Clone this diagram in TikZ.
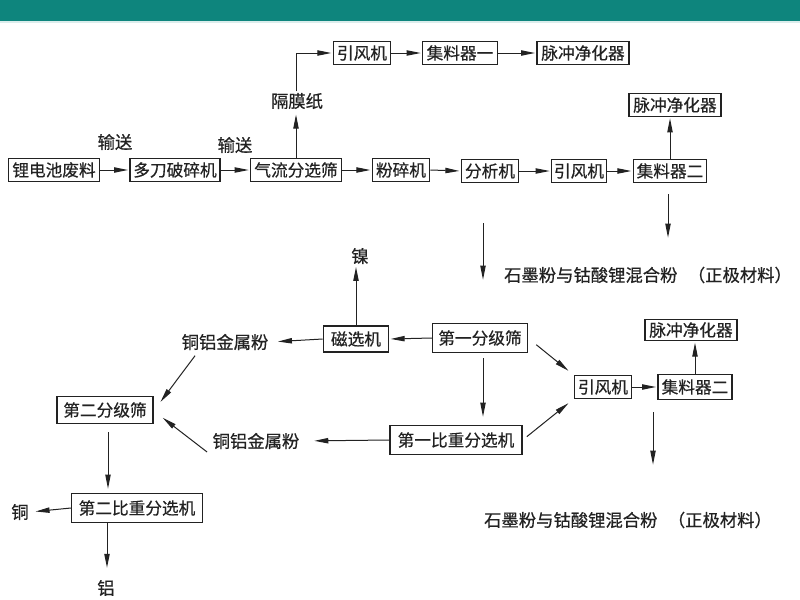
\documentclass[tikz,border=0pt]{standalone}
\usepackage{fontspec}
\newfontfamily\cjk[FakeBold=0.5]{Noto Sans CJK SC}
\usetikzlibrary{arrows.meta,calc}
\definecolor{headteal}{HTML}{0E857D}
\definecolor{ink}{HTML}{222222}
\tikzset{
  box/.style={draw=ink, line width=1pt, inner xsep=1pt, inner ysep=1pt, minimum height=17pt,
    font=\cjk\fontsize{12.5}{13}\selectfont, text=ink},
  lbl/.style={inner sep=1pt, font=\cjk\fontsize{13}{14}\selectfont, text=ink},
  arr/.style={draw=ink, line width=0.75pt, -{Triangle[length=10.5pt,width=4pt]}, shorten >=1pt},
}
\begin{document}
\begin{tikzpicture}[x=0.75pt,y=-0.75pt]
\useasboundingbox (0,0) rectangle (800,600);
\fill[white] (0,0) rectangle (800,600);
\fill[headteal] (0,0) rectangle (800,21);
\fill[headteal!15] (0,21) rectangle (800,23);
% top row
\node[box, minimum width=43pt] (yfj1) at (362,53) {引风机};
\node[box, minimum width=56pt] (jlq1) at (460,53) {集料器一};
\node[box, minimum width=69pt] (mc1) at (583,53) {脉冲净化器};
% main row
\node[box, minimum width=68pt] (ldc) at (54,170) {锂电池废料};
\node[box, minimum width=67.5pt] (ddp) at (175,170) {多刀破碎机};
\node[box, minimum width=68pt] (qlf) at (296,170) {气流分选筛};
\node[box, minimum width=43pt] (fsj) at (401,170) {粉碎机};
\node[box, minimum width=43pt] (fxj) at (490,171) {分析机};
\node[box, minimum width=41pt] (yfj2) at (579,171) {引风机};
\node[box, minimum width=55pt] (jlq2) at (670,171) {集料器二};
\node[box, minimum width=69pt] (mc2) at (675,105) {脉冲净化器};
\node[lbl] (ss1) at (115,142) {输送};
\node[lbl] (ss2) at (235,145) {输送};
\node[lbl] (gmz) at (297,101) {隔膜纸};
\node[lbl] (txt1) at (648,275) {石墨粉与钴酸锂混合粉\hspace{0.6em}（正极材料）};
\coordinate (f1s) at (668,194);
\coordinate (f1e) at (668,239);
\coordinate (f2s) at (483,223);
\coordinate (f2e) at (483,281);
% lower section
\node[lbl] (ni) at (360,256) {镍};
\node[box, minimum width=49pt, minimum height=19.5pt] (cxj) at (356,339) {磁选机};
\node[box, minimum width=71pt, minimum height=21.5pt] (dyf) at (480,338) {第一分级筛};
\node[box, minimum width=99pt, minimum height=22pt] (dyb) at (456,440) {第一比重分选机};
\node[box, minimum width=43pt] (yfj3) at (603,387) {引风机};
\node[box, minimum width=55.5pt, minimum height=18.5pt] (jlq3) at (695,387) {集料器二};
\node[box, minimum width=69pt, minimum height=16pt] (mc3) at (691,330) {脉冲净化器};
\node[lbl] (txt2) at (628,520) {石墨粉与钴酸锂混合粉\hspace{0.6em}（正极材料）};
\coordinate (f3s) at (653,412);
\coordinate (f3e) at (653,466);
\node[lbl] (tl1) at (225,342) {铜铝金属粉};
\node[lbl] (tl2) at (256,441) {铜铝金属粉};
\node[box, minimum width=72pt, minimum height=20pt] (def) at (105,410) {第二分级筛};
\node[box, minimum width=98pt, minimum height=22pt] (deb) at (137,508) {第二比重分选机};
\node[lbl] (tong) at (20,512) {铜};
\node[lbl] (lv) at (106,588) {铝};
% connectors top
\draw[arr] (ldc.east) -- (ddp.west);
\draw[arr] (ddp.east) -- (qlf.west);
\draw[arr] (qlf.east) -- (fsj.west);
\draw[arr] (fsj.east) -- (fxj.west);
\draw[arr] (fxj.east) -- (yfj2.west);
\draw[arr] (yfj2.east) -- (jlq2.west);
\draw[arr] (jlq2.north) -- (jlq2.north |- mc2.south);
\draw[arr, shorten >=3pt] (qlf.north) -- (qlf.north |- gmz.south);
\draw[arr] (qlf.north |- gmz.north) |- (yfj1.west);
\draw[arr] (yfj1.east) -- (jlq1.west);
\draw[arr] (jlq1.east) -- (mc1.west);
\draw[arr] (f1s) -- (f1e);
\draw[arr] (f2s) -- (f2e);
% connectors lower
\draw[arr] (dyf.west) -- (cxj.east);
\draw[arr] (cxj.north) -- (cxj.north |- ni.south);
\draw[arr, shorten >=6pt] (cxj.west) -- (tl1.east);
\draw[arr, shorten <=4pt, shorten >=6pt] ($(dyf.south)+(3,0)$) -- ($(dyf.south |- dyb.north)+(3,0)$);
\draw[arr, shorten <=8pt, shorten >=5pt] (dyf.east) -- (yfj3.north west);
\draw[arr, shorten <=4pt, shorten >=5pt] (dyb.east) -- (yfj3.south west);
\draw[arr] (yfj3.east) -- (jlq3.west);
\draw[arr] (jlq3.north) -- (jlq3.north |- mc3.south);
\draw[arr] (f3s) -- (f3e);
\draw[arr, shorten >=10pt] (dyb.west) -- (tl2.east);
\draw[arr] ($(tl1.south west)+(15,4)$) -- ($(def.east)+(6,-7)$);
\draw[arr] ($(tl2.west)+(-4,11)$) -- ($(def.east)+(8,7)$);
\draw[arr, shorten <=6pt, shorten >=3pt] ($(def.south)+(3,0)$) -- ($(def.south |- deb.north)+(3,0)$);
\draw[arr, shorten >=4pt] (deb.west) -- (tong.east);
\draw[arr, shorten >=8pt] ($(deb.south west)+(36,0)$) -- ($(deb.south west |- lv.north)+(36,0)$);
\end{tikzpicture}
\end{document}
